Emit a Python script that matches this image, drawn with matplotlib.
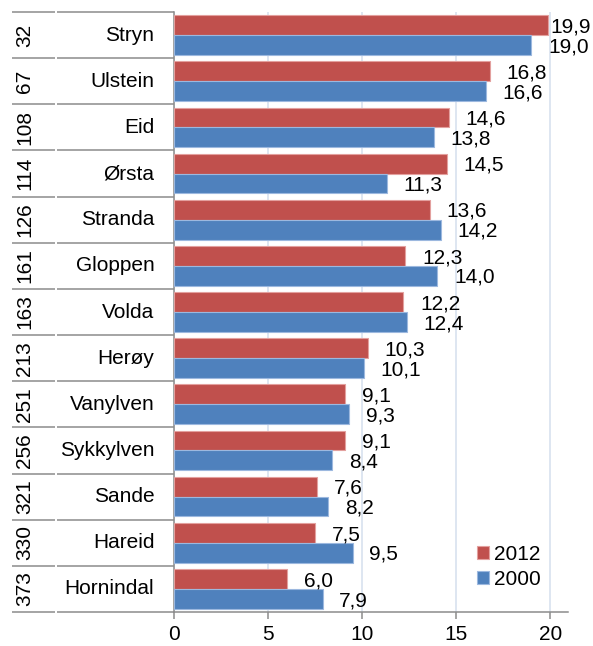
import matplotlib
matplotlib.use("Agg")
import matplotlib.pyplot as plt
import numpy as np

plt.rcParams['font.family'] = ['Liberation Sans', 'DejaVu Sans']

# data
names = ["Stryn", "Ulstein", "Eid", "Ørsta", "Stranda", "Gloppen", "Volda",
         "Herøy", "Vanylven", "Sykkylven", "Sande", "Hareid", "Hornindal"]
ranks = [32, 67, 108, 114, 126, 161, 163, 213, 251, 256, 321, 330, 373]
v2012 = [19.9, 16.8, 14.6, 14.5, 13.6, 12.3, 12.2, 10.3, 9.1, 9.1, 7.6, 7.5, 6.0]
v2000 = [19.0, 16.6, 13.8, 11.3, 14.2, 14.0, 12.4, 10.1, 9.3, 8.4, 8.2, 9.5, 7.9]
xticks = [0, 5, 10, 15, 20]

red = "#C0504D"
blue = "#4F81BD"
gray = "#8C8C8C"
fs = 15

W, H = 593, 646
fig = plt.figure(figsize=(W / 100, H / 100), dpi=100)
ax = fig.add_axes([174 / W, (H - 612) / H, (568 - 174) / W, 600 / H])

y = np.arange(len(names))
bh = 0.43
ax.barh(y - 0.215, v2012, height=bh, color=red, edgecolor="#E3A09E",
        linewidth=0.8, label="2012", zorder=3)
ax.barh(y + 0.215, v2000, height=bh, color=blue, edgecolor="#9CB8DF",
        linewidth=0.8, label="2000", zorder=3)

ax.set_xlim(0, 20.95)
ax.set_ylim(len(names) - 0.5, -0.5)

# value labels, kept inside the figure like Excel does
texts = []
for yy, vals in ((y - 0.215, v2012), (y + 0.215, v2000)):
    for yi, v in zip(yy, vals):
        t = ax.annotate(f"{v:.1f}".replace(".", ","), xy=(v, yi),
                        xytext=(12, -1.2), textcoords="offset points",
                        va="center", ha="left", fontsize=fs, zorder=4)
        texts.append(t)

ax.grid(axis="x", color="#D8E2EF", linewidth=1.2, zorder=0)
ax.set_axisbelow(True)
ax.set_xticks(xticks)
ax.tick_params(axis="x", direction="out", length=5, width=1.1, color=gray,
               labelsize=fs, pad=4.5)
ax.set_yticks([])
for s in ("top", "right"):
    ax.spines[s].set_visible(False)
for s in ("left", "bottom"):
    ax.spines[s].set_color(gray)
    ax.spines[s].set_linewidth(1.1)

# two-level category labels with separator lines
tr = ax.get_yaxis_transform()
for b in np.arange(-0.5, len(names), 1.0):
    ax.plot([-0.411, -0.302], [b, b], transform=tr, color=gray, lw=1.1,
            clip_on=False, solid_capstyle="butt")
    ax.plot([-0.297, 0], [b, b], transform=tr, color=gray, lw=1.1,
            clip_on=False, solid_capstyle="butt")
for yi, name, r in zip(y, names, ranks):
    ax.text(-0.05, yi, name, transform=tr, ha="right", va="center", fontsize=fs)
    ax.text(-0.379, yi, str(r), transform=tr, ha="center", va="center",
            rotation=90, fontsize=fs)

ax.legend(loc="upper left", bbox_to_anchor=(0.77, 0.112), frameon=False,
          fontsize=fs, handlelength=0.55, handleheight=0.55, handletextpad=0.25,
          labelspacing=0.3, borderpad=0, borderaxespad=0)

fig.canvas.draw()
r = fig.canvas.get_renderer()
for t in texts:
    ext = t.get_window_extent(r)
    if ext.x1 > W - 2:
        ox, oy = t.xyann
        t.xyann = (ox - (ext.x1 - (W - 2)) * 72 / 100, oy)

fig.savefig("out.png", dpi=100)
